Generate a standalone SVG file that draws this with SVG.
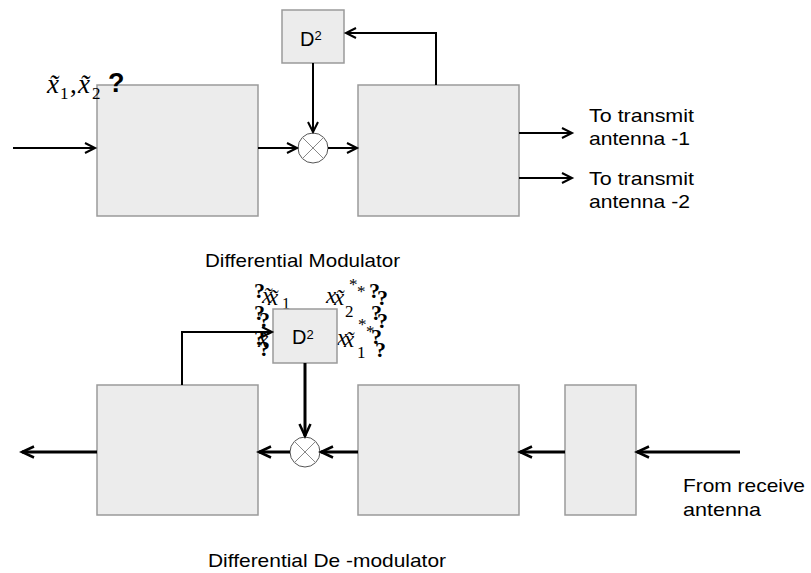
<svg xmlns="http://www.w3.org/2000/svg" width="811" height="573" viewBox="0 0 811 573">
<style>
.box{fill:#ececec;stroke:#9a9a9a;stroke-width:1.5}
.ln{fill:none;stroke:#000;stroke-width:2}
.lnb{fill:none;stroke:#000;stroke-width:3}
.mul{fill:#fff;stroke:#555;stroke-width:1}
.x{stroke:#888;stroke-width:1}
.lbl{font-family:"Liberation Sans",Arial,sans-serif;font-size:19px;fill:#000}
.d{font-family:"Liberation Sans",Arial,sans-serif;font-size:20px;fill:#000}
.sup{font-size:13px}
.m{font-family:"Liberation Serif","DejaVu Serif",serif;fill:#000}
.mi{font-family:"Liberation Serif","DejaVu Serif",serif;font-style:italic;fill:#000}
.q{font-family:"Liberation Serif","DejaVu Serif",serif;font-size:22px;font-weight:bold;fill:#000}
</style>
<defs>
<marker id="ah" markerUnits="userSpaceOnUse" markerWidth="14" markerHeight="14" refX="11" refY="6" orient="auto">
<path d="M1,1 L11,6 L1,11" fill="none" stroke="#000" stroke-width="2"/>
</marker>
<marker id="ahb" markerUnits="userSpaceOnUse" markerWidth="16" markerHeight="16" refX="13" refY="7" orient="auto">
<path d="M1,1.5 L13,7 L1,12.5" fill="none" stroke="#000" stroke-width="2.5"/>
</marker>
</defs>

<!-- Modulator -->
<g id="mod-box1"><rect class="box" x="97" y="85" width="161" height="131"/></g>
<g id="mod-box2"><rect class="box" x="358" y="85" width="161" height="131"/></g>
<g id="mod-input-label">
<text class="mi" x="47" y="93" font-size="27">x&#771;</text>
<text class="m" x="60" y="99" font-size="17">1</text>
<text class="m" x="70" y="93" font-size="27">,</text>
<text class="mi" x="78" y="93" font-size="27">x&#771;</text>
<text class="m" x="92" y="99" font-size="17">2</text>
<text x="108" y="92" font-family="Liberation Sans,Arial,sans-serif" font-weight="bold" font-size="27">?</text>
</g>
<g id="mod-d2"><rect class="box" x="282" y="10" width="62" height="53"/>
<text class="d" x="300" y="46">D<tspan class="sup" dy="-6">2</tspan></text></g>
<g id="mod-mult"><circle class="mul" cx="313" cy="148" r="15"/>
<line class="x" x1="302.4" y1="137.4" x2="323.6" y2="158.6"/><line class="x" x1="323.6" y1="137.4" x2="302.4" y2="158.6"/></g>
<g id="mod-out1"><text class="lbl" x="589" y="122" textLength="105" lengthAdjust="spacingAndGlyphs">To transmit</text>
<text class="lbl" x="589" y="145" textLength="101" lengthAdjust="spacingAndGlyphs">antenna -1</text></g>
<g id="mod-out2"><text class="lbl" x="589" y="185" textLength="105" lengthAdjust="spacingAndGlyphs">To transmit</text>
<text class="lbl" x="589" y="208" textLength="101" lengthAdjust="spacingAndGlyphs">antenna -2</text></g>
<g id="mod-title"><text class="lbl" x="205" y="267" textLength="195" lengthAdjust="spacingAndGlyphs">Differential Modulator</text></g>

<!-- Demodulator -->
<g id="demod-garbled">
<text class="q" x="254" y="298">?</text>
<text class="mi" x="262" y="303" font-size="23">x&#771;</text>
<text class="mi" x="268" y="305" font-size="23">x&#771;</text>
<text class="m" x="282" y="309" font-size="16">1</text>
<text class="q" x="254" y="320">?</text>
<text class="q" x="259" y="327">?</text>
<text class="q" x="254" y="345">?</text>
<text class="mi" x="258" y="347" font-size="23">x&#771;</text>
<text class="q" x="259" y="356">?</text>
<text class="mi" x="326" y="303" font-size="23">x</text>
<text class="mi" x="334" y="305" font-size="23">x&#771;</text>
<text class="m" x="345" y="317" font-size="17">2</text>
<text class="m" x="349" y="290" font-size="17">*</text>
<text class="m" x="357" y="297" font-size="17">*</text>
<text class="q" x="369" y="298">?</text>
<text class="q" x="377" y="305">?</text>
<text class="m" x="358" y="330" font-size="17">*</text>
<text class="m" x="366" y="337" font-size="17">*</text>
<text class="q" x="371" y="320">?</text>
<text class="q" x="377" y="328">?</text>
<text class="mi" x="337" y="345" font-size="23">x</text>
<text class="mi" x="344" y="347" font-size="23">x&#771;</text>
<text class="m" x="357" y="358" font-size="17">1</text>
<text class="q" x="371" y="344">?</text>
<text class="q" x="375" y="357">?</text>
</g>
<g id="demod-box1"><rect class="box" x="97" y="385" width="161" height="130"/></g>
<g id="demod-box2"><rect class="box" x="358" y="385" width="161" height="130"/></g>
<g id="demod-box3"><rect class="box" x="565" y="385" width="71" height="130"/></g>
<g id="demod-d2"><rect class="box" x="273" y="309" width="64" height="54"/>
<text class="d" x="292" y="344">D<tspan class="sup" dy="-5">2</tspan></text></g>
<g id="demod-mult"><circle class="mul" cx="305" cy="452" r="15"/>
<line class="x" x1="294.4" y1="441.4" x2="315.6" y2="462.6"/><line class="x" x1="315.6" y1="441.4" x2="294.4" y2="462.6"/></g>
<g id="demod-in"><text class="lbl" x="683" y="492" textLength="122" lengthAdjust="spacingAndGlyphs">From receive</text>
<text class="lbl" x="683" y="516" textLength="78" lengthAdjust="spacingAndGlyphs">antenna</text></g>
<g id="demod-title"><text class="lbl" x="208" y="567" textLength="238" lengthAdjust="spacingAndGlyphs">Differential De -modulator</text></g>

<g id="connectors">
<line class="ln" x1="13" y1="148" x2="95" y2="148" marker-end="url(#ah)"/>
<line class="ln" x1="258" y1="148" x2="297" y2="148" marker-end="url(#ah)"/>
<line class="ln" x1="313" y1="63" x2="313" y2="132" marker-end="url(#ah)"/>
<line class="ln" x1="328" y1="148" x2="357" y2="148" marker-end="url(#ah)"/>
<polyline class="ln" points="436,85 436,33 346,33" marker-end="url(#ah)"/>
<line class="ln" x1="519" y1="133" x2="572" y2="133" marker-end="url(#ah)"/>
<line class="ln" x1="519" y1="178" x2="572" y2="178" marker-end="url(#ah)"/>
<polyline class="ln" points="182,385 182,332 272,332" marker-end="url(#ah)"/>
<line class="lnb" x1="305" y1="363" x2="305" y2="436" marker-end="url(#ahb)"/>
<line class="lnb" x1="358" y1="452" x2="321" y2="452" marker-end="url(#ahb)"/>
<line class="lnb" x1="290" y1="452" x2="259" y2="452" marker-end="url(#ahb)"/>
<line class="lnb" x1="97" y1="452" x2="22" y2="452" marker-end="url(#ahb)"/>
<line class="lnb" x1="565" y1="452" x2="520" y2="452" marker-end="url(#ahb)"/>
<line class="lnb" x1="740" y1="452" x2="637" y2="452" marker-end="url(#ahb)"/>
</g>
</svg>
